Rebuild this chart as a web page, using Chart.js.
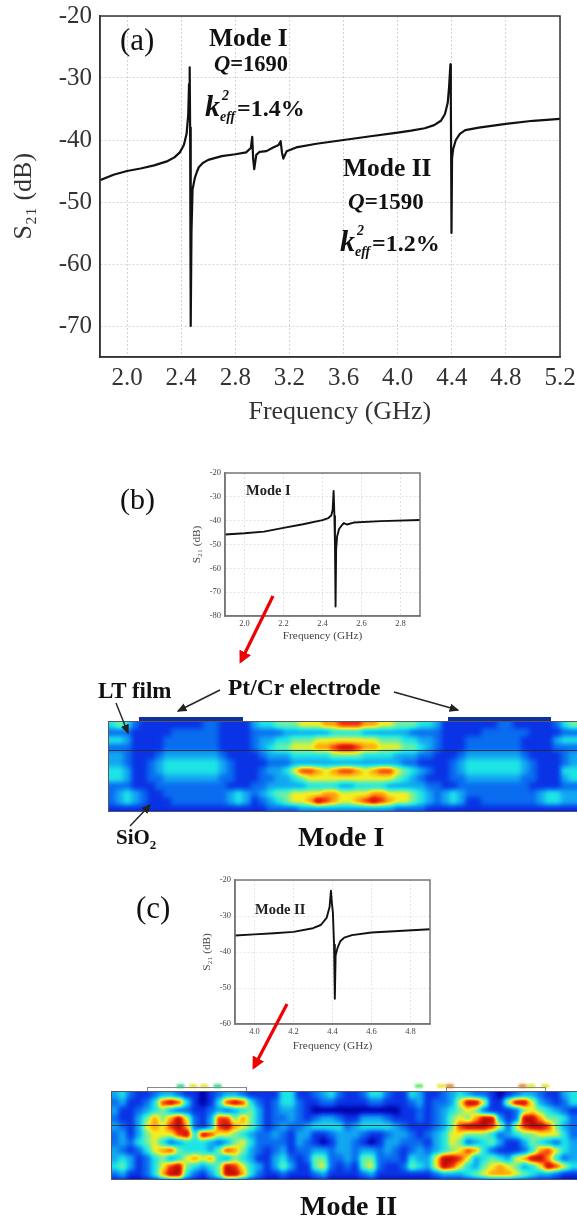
<!DOCTYPE html>
<html>
<head>
<meta charset="utf-8">
<script src="https://cdn.jsdelivr.net/npm/chart.js@4/dist/chart.umd.min.js"></script>
<style>
html, body { margin: 0; padding: 0; background: #fff; }
#page { position: relative; width: 577px; height: 1222px; overflow: hidden; font-family: "Liberation Serif", serif; color: #111; filter: blur(0.45px); }
canvas { position: absolute; display: block; }
.t { position: absolute; white-space: nowrap; line-height: 1; }
.b { font-weight: bold; }
.k { position: absolute; white-space: nowrap; font-weight: bold; line-height: 1; }
.k i.main { font-size: 30px; }
.k sup, .k sub { position: absolute; font-style: italic; font-size: 14px; line-height: 1; }
.heat { position: absolute; overflow: hidden; }
.heat canvas { filter: url(#jetField); }
.elec { position: absolute; }
.line { position: absolute; height: 1px; background: #223; opacity: .8; }
svg { position: absolute; left: 0; top: 0; }
</style>
</head>
<body>
<svg width="0" height="0" style="position:absolute">
  <filter id="jetField" x="0" y="0" width="100%" height="100%" color-interpolation-filters="sRGB">
    <feGaussianBlur stdDeviation="2.8"/>
    <feComponentTransfer>
      <feFuncR id="jetR" type="table"/>
      <feFuncG id="jetG" type="table"/>
      <feFuncB id="jetB" type="table"/>
    </feComponentTransfer>
  </filter>
</svg>
<div id="page">
  <canvas id="chartA" width="577" height="430" style="left:0;top:0"></canvas>
  <canvas id="chartB" width="265" height="190" style="left:170px;top:460px"></canvas>
  <canvas id="chartC" width="265" height="193" style="left:180px;top:867px"></canvas>

  <div class="heat" style="left:108px;top:722px;width:469px;height:90px"><canvas id="heatI" width="485" height="107" style="left:-8px;top:-8px"></canvas></div>
  <div class="heat" style="left:111px;top:1091px;width:466px;height:88px"><canvas id="heatII" width="482" height="104" style="left:-8px;top:-8px"></canvas></div>
  <canvas id="lobes" width="466" height="12" style="left:111px;top:1080px;filter:blur(0.8px)"></canvas>

  <div class="elec" style="left:139px;top:717px;width:104px;height:5px;background:#12309a"></div>
  <div class="elec" style="left:448px;top:717px;width:103px;height:5px;background:#12309a"></div>
  <div class="line" style="left:108px;top:750px;width:469px"></div>
  <div class="elec" style="left:108px;top:721px;width:469px;height:91px;border:1px solid #556;border-right:0;box-sizing:border-box"></div>

  <div class="elec" style="left:147px;top:1087px;width:98px;height:4px;border:1px solid #888;border-bottom:0"></div>
  <div class="elec" style="left:446px;top:1087px;width:98px;height:4px;border:1px solid #888;border-bottom:0"></div>
  <div class="line" style="left:111px;top:1125px;width:466px"></div>
  <div class="elec" style="left:111px;top:1091px;width:466px;height:89px;border:1px solid #556;border-right:0;box-sizing:border-box"></div>

  <span class="t" style="left:120px;top:24px;font-size:31px">(a)</span>
  <span class="t b" style="left:209px;top:25px;font-size:25.5px">Mode I</span>
  <span class="t b" style="left:214px;top:53px;font-size:22.5px"><i>Q</i>=1690</span>
  <div class="k" style="left:205px;top:91px;font-size:24px"><i class="main">k</i><sup style="left:17px;top:-2px">2</sup><sub style="left:15px;top:19px">eff</sub><span style="margin-left:17px">=1.4%</span></div>
  <span class="t b" style="left:343px;top:155px;font-size:25.5px">Mode II</span>
  <span class="t b" style="left:348px;top:190px;font-size:23px"><i>Q</i>=1590</span>
  <div class="k" style="left:340px;top:226px;font-size:24px"><i class="main">k</i><sup style="left:17px;top:-2px">2</sup><sub style="left:15px;top:19px">eff</sub><span style="margin-left:17px">=1.2%</span></div>

  <span class="t" style="left:120px;top:484px;font-size:30px">(b)</span>
  <span class="t b" style="left:246px;top:483px;font-size:14.5px;color:#222">Mode I</span>
  <span class="t" style="left:136px;top:892px;font-size:31px">(c)</span>
  <span class="t b" style="left:255px;top:902px;font-size:14.5px;color:#222">Mode II</span>

  <span class="t b" style="left:98px;top:679px;font-size:23px">LT film</span>
  <span class="t b" style="left:228px;top:676px;font-size:23.5px">Pt/Cr electrode</span>
  <span class="t b" style="left:116px;top:827px;font-size:21px">SiO<sub style="font-size:13px;line-height:0">2</sub></span>
  <span class="t b" style="left:298px;top:823px;font-size:28px">Mode I</span>
  <span class="t b" style="left:300px;top:1192px;font-size:28px">Mode II</span>

  <svg width="577" height="1222">
    <defs>
      <marker id="headK" markerWidth="7" markerHeight="7" refX="6" refY="3" orient="auto"><path d="M0,0 L7,3 L0,6 Z" fill="#222"/></marker>
      <marker id="headR" markerWidth="4" markerHeight="4" refX="3" refY="2" orient="auto"><path d="M0,0 L4,2 L0,4 Z" fill="#f00000"/></marker>
    </defs>
    <g stroke="#222" stroke-width="1.4" fill="none">
      <line x1="220" y1="690" x2="178" y2="711" marker-end="url(#headK)"/>
      <line x1="394" y1="692" x2="458" y2="710" marker-end="url(#headK)"/>
      <line x1="116" y1="703" x2="128" y2="733" marker-end="url(#headK)"/>
      <line x1="130" y1="826" x2="150" y2="805" marker-end="url(#headK)"/>
    </g>
    <line x1="273" y1="596" x2="241" y2="661" stroke="#f00000" stroke-width="3.2" marker-end="url(#headR)"/>
    <line x1="287" y1="1004" x2="254" y2="1067" stroke="#f00000" stroke-width="3.2" marker-end="url(#headR)"/>
  </svg>
</div>

<script>
// S21 traces
const freqA = [1.8,1.9,2.0,2.1,2.2,2.3,2.35,2.39,2.42,2.44,2.452,2.458,2.463,2.466,2.469,2.472,2.476,2.484,2.5,2.515,2.53,2.56,2.6,2.7,2.8,2.88,2.915,2.925,2.932,2.94,2.955,2.98,3.03,3.08,3.12,3.135,3.145,3.155,3.18,3.25,3.4,3.6,3.8,4.0,4.1,4.2,4.27,4.32,4.35,4.37,4.38,4.39,4.393,4.396,4.398,4.402,4.41,4.43,4.46,4.5,4.6,4.8,5.0,5.2];
const s21A = [-46.5,-45.6,-45,-44.6,-44.1,-43.4,-42.8,-42,-40.8,-39,-36,-31,-28.3,-38,-50,-70,-55,-48,-46.2,-45.2,-44.4,-43.7,-43.2,-42.6,-42.3,-42,-41.3,-39.5,-43,-44.7,-42.4,-41.9,-41.8,-41.2,-40.8,-40.2,-42,-43,-41.8,-41.2,-40.6,-40,-39.4,-38.8,-38.5,-38.1,-37.6,-36.9,-35.8,-34,-31.5,-27.8,-33,-45,-55,-43,-41.5,-40,-39,-38.4,-38,-37.4,-36.9,-36.6];

const freqB = [1.9,2.0,2.1,2.2,2.3,2.4,2.43,2.445,2.452,2.457,2.461,2.464,2.467,2.47,2.475,2.485,2.5,2.51,2.525,2.56,2.7,2.9];
const s21B = [-45.8,-45.3,-44.6,-43,-41.5,-39.8,-38.9,-37.8,-35.5,-27.5,-38,-50,-76,-52,-46.5,-43.5,-41.8,-41,-41.6,-40.8,-40.2,-39.7];

const freqC = [3.9,4.0,4.1,4.2,4.3,4.34,4.37,4.385,4.392,4.397,4.402,4.408,4.412,4.416,4.425,4.44,4.46,4.5,4.6,4.9];
const s21C = [-35.4,-35.1,-34.8,-34.4,-33.4,-32.5,-30.5,-27.5,-23,-26.5,-29,-38,-53,-41,-39,-37,-36,-35.3,-34.6,-33.7];

const ticksAX = [2.0,2.4,2.8,3.2,3.6,4.0,4.4,4.8,5.2];
const ticksAY = [-20,-30,-40,-50,-60,-70];
const ticksBX = [2.0,2.2,2.4,2.6,2.8];
const ticksBY = [-20,-30,-40,-50,-60,-70,-80];
const ticksCX = [4.0,4.2,4.4,4.6,4.8];
const ticksCY = [-20,-30,-40,-50,-60];

// field magnitude, level 0-9 per cell, row by row from the surface down
const fieldModeI = [
"4542"+"11111111221111"+"344555666778887766555443"+"11111112211111"+"245",
"2221"+"11112222221111"+"222233333344443333332222"+"11111222222111"+"122",
"4431"+"11122222221111"+"233445556666666655544332"+"11122222221111"+"344",
"2221"+"11122222221111"+"234556667789987766655432"+"11122222221111"+"222",
"3321"+"11233333332111"+"123334444455554444333221"+"11233333332111"+"123",
"3321"+"12344444443211"+"112223333333333333322111"+"12344444443211"+"123",
"4431"+"12344444443211"+"123346887678876788654321"+"12344444443211"+"144",
"4431"+"12233333332211"+"122334566666666666543211"+"12233333332211"+"134",
"2221"+"11222222222111"+"223333344443344443333322"+"11222222222111"+"122",
"2343"+"21122222222343"+"234556666776666776665432"+"34322222222234"+"433",
"2343"+"21112222222343"+"123456679876678987665432"+"34311222222234"+"433",
"1111"+"11111111111111"+"112222333333333333222211"+"11111111111111"+"111"
];
const fieldModeII = [
"3421123321101233211"+"11441123421124421143"+"1123432210123321134",
"2311248984101489842"+"12442112211112211123"+"1223699611699632124",
"3112345322112323453"+"12332100000000000112"+"1234565211125654321",
"2113575796213885753"+"12232123321133321112"+"1235657993129975542",
"3213676897213897653"+"12322344442344443211"+"1235899986268998532",
"2313566689498665432"+"23213311233321123321"+"2346655542345566642",
"2324564234443235642"+"22213210133210133222"+"1346523453113543243",
"3212467854443587532"+"12312233233233232123"+"2345687421112478643",
"3431245346767435431"+"13421255223255222143"+"3699863454367997423",
"4531246895434598643"+"13531156212156211254"+"3698643567653469864",
"2311247994213599742"+"11211123111123111111"+"1233345677765433211"
];
// small lobes standing above the surface in mode II (column positions)
const lobeCols = [8.3,9.9,11.3,13,38.5,41.3,42.4,51.6,52.7,54.5];
const lobeColors = ['#40e0a0','#e8e840','#e8e840','#40e0a0','#70e870','#e8e840','#f09030','#f09030','#e8e840','#e8e840'];

const levelColors = [[0,0,168],[10,52,230],[10,108,240],[18,168,242],[30,230,230],[112,240,160],[244,240,32],[255,156,16],[242,42,16],[184,10,0]];

const serif = 'Liberation Serif';

['R', 'G', 'B'].forEach((name, i) => {
    document.getElementById('jet' + name).setAttribute('tableValues',
        levelColors.map(c => (c[i] / 255).toFixed(3)).join(' '));
});

function sparamChart(id, xs, ys, box) {
    const points = xs.map((x, i) => ({ x: x, y: ys[i] }));
    new Chart(document.getElementById(id), {
        type: 'scatter',
        data: { datasets: [{
            data: points,
            showLine: true,
            tension: 0,
            pointRadius: 0,
            borderColor: '#111',
            borderWidth: box.lineWidth,
            borderJoinStyle: 'round'
        }] },
        options: {
            responsive: false,
            animation: false,
            events: [],
            plugins: { legend: { display: false }, tooltip: { enabled: false } },
            layout: { padding: { top: box.padTop, right: box.padRight, left: 0, bottom: 0 } },
            scales: {
                x: {
                    type: 'linear',
                    min: box.xMin, max: box.xMax,
                    afterFit: s => { s.height = box.bottom; s.paddingLeft = 0; s.paddingRight = 0; },
                    afterBuildTicks: s => { s.ticks = box.xTicks.map(v => ({ value: v })); },
                    grid: { color: box.gridColor, lineWidth: 1, drawTicks: false },
                    border: { color: box.frame, width: box.frameWidth, dash: [2, 2], display: true },
                    ticks: {
                        color: box.tickColor, padding: box.xPad, maxRotation: 0, autoSkip: false,
                        font: { family: serif, size: box.tickSize },
                        callback: v => v.toFixed(1)
                    },
                    title: {
                        display: true, text: box.nudge + 'Frequency (GHz)', color: box.tickColor,
                        font: { family: serif, size: box.titleSize },
                        padding: { top: 0, bottom: box.xTitlePad }
                    }
                },
                y: {
                    type: 'linear',
                    min: box.yMin, max: box.yMax,
                    afterFit: s => { s.width = box.left; s.paddingTop = 0; s.paddingBottom = 0; },
                    afterBuildTicks: s => { s.ticks = box.yTicks.map(v => ({ value: v })); },
                    grid: { color: box.gridColor, lineWidth: 1, drawTicks: false },
                    border: { color: box.frame, width: box.frameWidth, dash: [2, 2], display: true },
                    ticks: {
                        color: box.tickColor, padding: box.yPad, autoSkip: false,
                        font: { family: serif, size: box.tickSize }
                    },
                    title: {
                        display: true, text: 'S\u2082\u2081 (dB)' + box.nudge, color: box.tickColor,
                        font: { family: serif, size: box.titleSize },
                        padding: { top: box.yTitlePad, bottom: 0 }
                    }
                }
            }
        },
        plugins: [{
            id: 'frame',
            afterDatasetsDraw(chart) {
                const a = chart.chartArea, ctx = chart.ctx;
                ctx.save();
                ctx.strokeStyle = box.frame;
                ctx.lineWidth = box.frameWidth;
                ctx.strokeRect(a.left, a.top, a.right - a.left, a.bottom - a.top);
                ctx.restore();
            }
        }]
    });
}

// cells go out as grey levels, the svg filter smooths them and maps them to the jet colours
function fieldChart(id, rows) {
    const nRows = rows.length, nCols = rows[0].length;
    const cells = [];
    for (let r = -1; r <= nRows; r++) {
        const row = rows[Math.min(Math.max(r, 0), nRows - 1)];
        for (let c = -1; c <= nCols; c++) {
            const level = r === nRows ? 0 : +row[Math.min(Math.max(c, 0), nCols - 1)];
            cells.push({ x: c + 0.5, y: r + 0.5, v: level });
        }
    }
    new Chart(document.getElementById(id), {
        type: 'scatter',
        data: { datasets: [{
            data: cells,
            pointStyle: 'rect',
            pointRadius: ctx => {
                const s = ctx.chart.scales;
                return (Math.abs(s.x.getPixelForValue(1) - s.x.getPixelForValue(0)) + 1) / Math.SQRT2;
            },
            pointBorderWidth: 0,
            backgroundColor: ctx => {
                const g = Math.round(ctx.raw.v / 9 * 255);
                return 'rgb(' + g + ',' + g + ',' + g + ')';
            }
        }] },
        options: {
            responsive: false,
            animation: false,
            events: [],
            plugins: { legend: { display: false }, tooltip: { enabled: false } },
            layout: { padding: 0 },
            scales: {
                x: { display: false, type: 'linear', min: -1, max: nCols + 1 },
                y: { display: false, type: 'linear', min: -1, max: nRows + 1, reverse: true }
            }
        }
    });
}

sparamChart('chartA', freqA, s21A, {
    left: 100, bottom: 73, padTop: 16, padRight: 17, nudge: '\u00a0\u00a0\u00a0',
    xMin: 1.8, xMax: 5.2, yMin: -75, yMax: -20,
    xTicks: ticksAX, yTicks: ticksAY,
    lineWidth: 2.2, frame: '#333', frameWidth: 1.5, gridColor: '#d4d4d4',
    tickColor: '#333', tickSize: 25, titleSize: 26,
    xPad: 6, yPad: 8, xTitlePad: 2, yTitlePad: 9
});
sparamChart('chartB', freqB, s21B, {
    left: 55, bottom: 34, padTop: 13, padRight: 15, nudge: '',
    xMin: 1.9, xMax: 2.9, yMin: -80, yMax: -20,
    xTicks: ticksBX, yTicks: ticksBY,
    lineWidth: 1.9, frame: '#777', frameWidth: 1.5, gridColor: '#e2e2e2',
    tickColor: '#444', tickSize: 8.5, titleSize: 11.3,
    xPad: 3, yPad: 4, xTitlePad: 7, yTitlePad: 20
});
sparamChart('chartC', freqC, s21C, {
    left: 55, bottom: 36, padTop: 13, padRight: 15, nudge: '',
    xMin: 3.9, xMax: 4.9, yMin: -60, yMax: -20,
    xTicks: ticksCX, yTicks: ticksCY,
    lineWidth: 1.9, frame: '#777', frameWidth: 1.5, gridColor: '#e6e6e6',
    tickColor: '#444', tickSize: 8.5, titleSize: 11.3,
    xPad: 3, yPad: 4, xTitlePad: 7, yTitlePad: 20
});

fieldChart('heatI', fieldModeI);
fieldChart('heatII', fieldModeII);

new Chart(document.getElementById('lobes'), {
    type: 'scatter',
    data: { datasets: [{
        data: lobeCols.map(c => ({ x: c, y: 0.5 })),
        pointRadius: 4,
        pointBorderWidth: 0,
        backgroundColor: lobeColors
    }] },
    options: {
        responsive: false,
        animation: false,
        events: [],
        plugins: { legend: { display: false }, tooltip: { enabled: false } },
        layout: { padding: 0 },
        scales: {
            x: { display: false, type: 'linear', min: 0, max: fieldModeII[0].length },
            y: { display: false, type: 'linear', min: 0, max: 1 }
        }
    }
});
</script>
</body>
</html>
